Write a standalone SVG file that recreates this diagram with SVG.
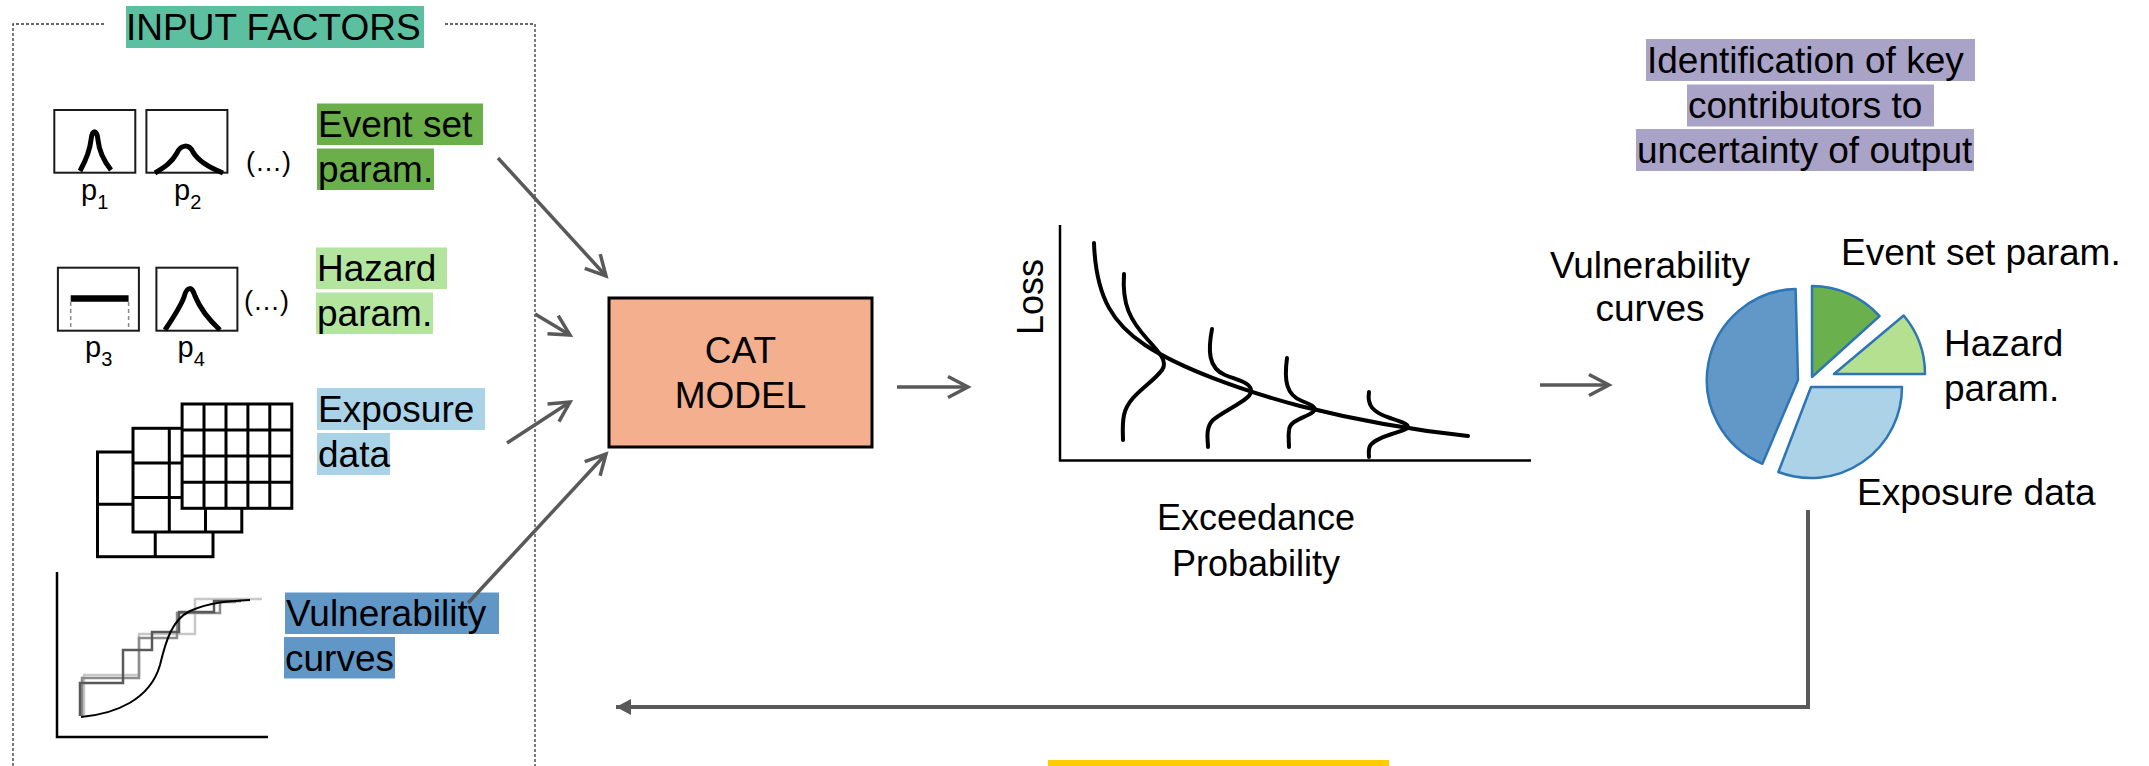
<svg xmlns="http://www.w3.org/2000/svg" width="2149" height="766" viewBox="0 0 2149 766">
<style>
text{font-family:"Liberation Sans",Arial,sans-serif;fill:#000}
.l{font-size:37px}
.ps{font-size:29px}
.el{font-size:27px}
.sub{font-size:20px}
.box{fill:#fff;stroke:#1a1a1a;stroke-width:2}
.pdf{fill:none;stroke:#000;stroke-width:5}
.grid{fill:#fff;stroke:#000;stroke-width:3}
.gl{fill:none;stroke:#000;stroke-width:3}
.arr{fill:none;stroke:#595959;stroke-width:3.5;marker-end:url(#ah)}
.wig{fill:none;stroke:#000;stroke-width:4;stroke-linecap:round}
.slice{stroke:#2e75b6;stroke-width:2.5;stroke-linejoin:round}
.step{fill:none;stroke-width:2.5}
</style>
<defs>
<marker id="ah" markerUnits="userSpaceOnUse" markerWidth="34" markerHeight="34" viewBox="-28 -17 34 34" refX="0" refY="0" orient="auto"><path d="M-20,-10.5 L0,0 L-20,10.5" fill="none" stroke="#595959" stroke-width="3.5"/></marker>
<marker id="tri" markerUnits="userSpaceOnUse" markerWidth="24" markerHeight="24" viewBox="-20 -12 24 24" refX="0" refY="0" orient="auto"><path d="M-15,-8 L0,0 L-15,8 Z" fill="#595959"/></marker>
</defs>
<rect width="2149" height="766" fill="#fff"/>

<g id="input-factors">
<path d="M13,766 V24 H106 M445,24 H535 V766" fill="none" stroke="#333" stroke-width="1.3" stroke-dasharray="3 2"/>
<rect x="126" y="6" width="298" height="42" fill="#5cbf9f"/>
<text class="l" x="126" y="40">INPUT FACTORS</text>
</g>

<g id="event-set">
<rect class="box" x="54.3" y="110" width="81" height="62.7"/>
<rect class="box" x="146.4" y="110" width="81" height="62.7"/>
<path class="pdf" d="M80,171 C86,160 90,150 91,140 C92,129 97,129 98,140 C99,150 103,160 111,170"/>
<path class="pdf" d="M155,173 C165,167 172,162 177,153 C181,144 189,144 193,152 C198,161 208,167 223,173"/>
<text class="el" x="246" y="171">(…)</text>
<text class="ps" x="81" y="200">p<tspan class="sub" dy="9">1</tspan></text>
<text class="ps" x="174" y="200">p<tspan class="sub" dy="9">2</tspan></text>
<rect x="317" y="103.5" width="166" height="41.5" fill="#6aaf4a"/>
<rect x="317" y="148.5" width="117" height="41.5" fill="#6aaf4a"/>
<text class="l" x="318" y="137">Event set</text>
<text class="l" x="318" y="182">param.</text>
</g>

<g id="hazard">
<rect class="box" x="57.9" y="267.7" width="81" height="63"/>
<rect class="box" x="156.4" y="267.7" width="81" height="63"/>
<path d="M70.7,298.5 H128.6" stroke="#000" stroke-width="6.5"/>
<path d="M70.7,302 V330 M128.6,302 V330" stroke="#888" stroke-width="1.5" stroke-dasharray="4 3"/>
<path class="pdf" d="M165,330 C173,318 181,306 184,297 C187,286 192,286 195,296 C199,306 207,318 220,330"/>
<text class="el" x="244" y="310">(…)</text>
<text class="ps" x="85" y="357">p<tspan class="sub" dy="9">3</tspan></text>
<text class="ps" x="177.6" y="357">p<tspan class="sub" dy="9">4</tspan></text>
<rect x="316" y="247.5" width="131" height="41.5" fill="#b4e59e"/>
<rect x="316" y="292.5" width="117" height="41.5" fill="#b4e59e"/>
<text class="l" x="317" y="281">Hazard</text>
<text class="l" x="317" y="326">param.</text>
</g>

<g id="exposure">
<rect class="grid" x="97.5" y="452" width="115.5" height="104.7"/>
<path class="gl" d="M155.25,452 V556.7 M97.5,504.3 H213"/>
<rect class="grid" x="133" y="428.3" width="108.8" height="103.7"/>
<path class="gl" d="M169.3,428.3 V532 M205.5,428.3 V532 M133,462.9 H241.8 M133,497.4 H241.8"/>
<rect class="grid" x="182.1" y="404" width="109.7" height="104.3"/>
<path class="gl" d="M204,404 V508.3 M226,404 V508.3 M247.9,404 V508.3 M269.8,404 V508.3 M182.1,430 H291.8 M182.1,456.1 H291.8 M182.1,482.2 H291.8"/>
<rect x="317" y="388" width="168" height="42" fill="#abd3e7"/>
<rect x="317" y="433" width="73" height="42" fill="#abd3e7"/>
<text class="l" x="318" y="422">Exposure</text>
<text class="l" x="318" y="467">data</text>
</g>

<g id="vulnerability">
<path d="M57,572 V737 H268" fill="none" stroke="#000" stroke-width="2.5"/>
<path class="step" stroke="#c8c8c8" d="M84,716 V675 H139 V634 H195 V599 H262"/>
<path class="step" stroke="#8c8c8c" d="M82,716 V678 H139 V638 H177 V613 H220 V602 H236"/>
<path class="step" stroke="#595959" d="M80,716 V683 H123 V650 H152 V632 H179 V612 H214 V601 H241"/>
<path d="M81,717 C115,714 150,700 160,665 C166,640 172,620 190,611 C210,602 230,601 250,600" fill="none" stroke="#000" stroke-width="2"/>
<rect x="285" y="592.5" width="214" height="41.5" fill="#6097c7"/>
<rect x="284" y="637" width="111" height="41.5" fill="#6097c7"/>
<text class="l" x="286" y="626">Vulnerability</text>
<text class="l" x="285" y="671">curves</text>
</g>

<g id="cat-model">
<rect x="609" y="298" width="263" height="149" fill="#f4af8f" stroke="#000" stroke-width="3"/>
<text class="l" x="740.5" y="363" text-anchor="middle">CAT</text>
<text class="l" x="740.5" y="408" text-anchor="middle">MODEL</text>
</g>

<g id="ep-curve">
<path d="M1060,225 V460.5 H1531" fill="none" stroke="#000" stroke-width="2.5"/>
<text transform="translate(1043,297) rotate(-90)" text-anchor="middle" style="font-size:36px">Loss</text>
<path class="wig" d="M1094,243 C1096,300 1115,325 1145,345 C1180,368 1240,390 1300,406 C1360,421 1420,431 1468,436"/>
<path class="wig" d="M1124,274 C1122,305 1130,320 1148,340 C1160,353 1168,362 1162,370 C1152,384 1128,395 1124,415 C1122,425 1123,435 1123,440"/>
<path class="wig" d="M1212,329 C1208,350 1208,368 1225,375 C1240,381 1252,383 1251,392 C1250,400 1225,410 1213,420 C1205,428 1208,440 1208,447"/>
<path class="wig" d="M1287,358 C1284,380 1286,395 1302,401 C1312,405 1318,408 1313,412 C1305,418 1290,420 1289,430 C1288,437 1289,442 1289,447"/>
<path class="wig" d="M1369,392 C1367,405 1372,412 1390,418 C1402,422 1412,425 1406,429 C1398,433 1375,437 1370,446 C1368,450 1369,455 1369,457"/>
<text x="1256" y="530" text-anchor="middle" style="font-size:36px">Exceedance</text>
<text x="1256" y="576" text-anchor="middle" style="font-size:36px">Probability</text>
</g>

<g id="key-contributors">
<rect x="1646" y="39" width="329" height="42" fill="#a9a3c8"/>
<rect x="1687" y="84.5" width="247" height="42" fill="#a9a3c8"/>
<rect x="1636" y="129" width="338" height="42" fill="#a9a3c8"/>
<text class="l" x="1647" y="73">Identification of key</text>
<text class="l" x="1688" y="118">contributors to</text>
<text class="l" x="1637" y="163">uncertainty of output</text>
</g>

<g id="pie">
<path class="slice" fill="#6298c8" d="M1798,380 L1762.4,463.8 A91,91 0 0 1 1795.6,289 Z"/>
<path class="slice" fill="#6ab04c" d="M1812,377 L1812,286 A91,91 0 0 1 1879.6,316.1 Z"/>
<path class="slice" fill="#b5e08f" d="M1834,374 L1903.7,315.5 A91,91 0 0 1 1925,374 Z"/>
<path class="slice" fill="#abd2e6" d="M1811,387 L1902,387 A91,91 0 0 1 1778.4,472 Z"/>
<text class="l" x="1650" y="278" text-anchor="middle">Vulnerability</text>
<text class="l" x="1650" y="321" text-anchor="middle">curves</text>
<text class="l" x="1841" y="265">Event set param.</text>
<text class="l" x="1944" y="356">Hazard</text>
<text class="l" x="1944" y="401">param.</text>
<text class="l" x="1857" y="505">Exposure data</text>
</g>

<g id="yellow-bar">
<rect x="1048" y="760" width="341" height="8" fill="#ffcc00"/>
</g>

<g id="connectors">
<line class="arr" x1="498" y1="158" x2="606" y2="276"/>
<line class="arr" x1="535" y1="314" x2="570" y2="335"/>
<line class="arr" x1="507" y1="443" x2="570" y2="402"/>
<line class="arr" x1="468" y1="603" x2="606" y2="454"/>
<line class="arr" x1="897" y1="387" x2="968" y2="387"/>
<line class="arr" x1="1540" y1="385" x2="1609" y2="385"/>
<path d="M1808,510 V707 H616" fill="none" stroke="#595959" stroke-width="4" marker-end="url(#tri)"/>
</g>
</svg>
